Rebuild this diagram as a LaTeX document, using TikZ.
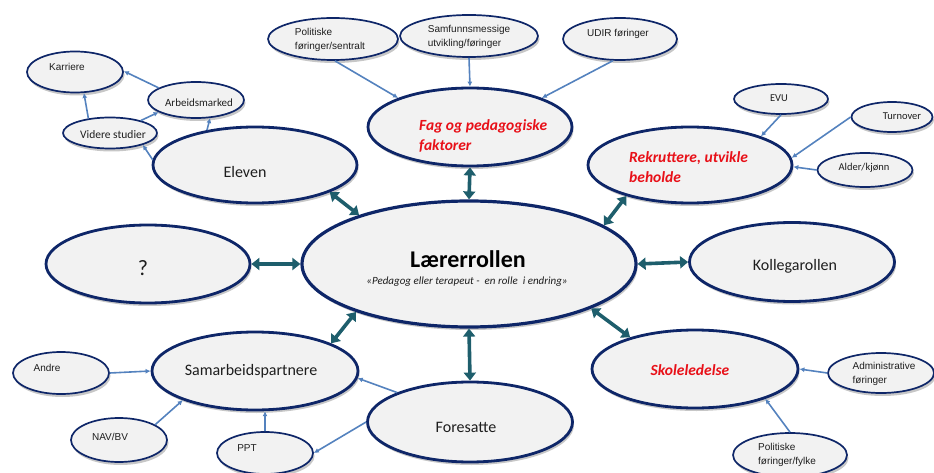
\documentclass[tikz,border=0pt]{standalone}
\usepackage{fontspec}
\newfontfamily\CalF{Carlito}
\newfontfamily\ArF{Liberation Sans}
\usetikzlibrary{shapes.geometric,arrows.meta,shadows}
\definecolor{navyb}{RGB}{14,38,104}
\definecolor{ellf}{RGB}{242,242,242}
\definecolor{linkb}{RGB}{84,130,190}
\definecolor{tealA}{RGB}{30,94,108}
\definecolor{redT}{RGB}{232,16,24}
\definecolor{txtg}{RGB}{30,30,30}
\begin{document}
\begin{tikzpicture}[x=1pt,y=-1pt,
  shad/.style={drop shadow={shadow xshift=1.5pt,shadow yshift=-3pt,opacity=0.22,fill=black}},
  bigE/.style={ellipse,draw=navyb,line width=2.8pt,fill=ellf,inner sep=0pt,minimum width=204pt,minimum height=78pt,shad},
  smE/.style={ellipse,draw=navyb,line width=1.7pt,fill=ellf,inner sep=0pt,shad},
  bigT/.style={inner sep=0pt,text=txtg,font=\CalF\fontsize{16}{19}\selectfont},
  redT/.style={inner sep=0pt,text=redT,align=left,anchor=west,font=\CalF\bfseries\itshape\fontsize{15.5}{20}\selectfont},
  arT/.style={inner sep=0pt,text=txtg,align=left,font=\ArF\fontsize{10}{14}\selectfont},
  caT/.style={inner sep=0pt,text=txtg,align=left,font=\CalF\fontsize{11}{13}\selectfont},
  lnk/.style={draw=linkb,line width=1.6pt,-{Latex[length=5pt,width=5pt]}},
  dbl/.style={draw=tealA,line width=3.6pt,{Triangle[length=8pt,width=12pt]}-{Triangle[length=8pt,width=12pt]}}
]
\useasboundingbox (0,0) rectangle (934,473);

% big ellipses
\node[bigE,minimum width=334pt,minimum height=126pt,line width=3.2pt] (L) at (469,264) {};
\node[bigE,minimum height=76pt] (E) at (255,165) {};
\node[bigE] (F) at (470,127) {};
\node[bigE,minimum height=76pt] (R) at (690,165) {};
\node[bigE] (Q) at (148,264) {};
\node[bigE,minimum width=205pt,minimum height=79pt] (K) at (792,262) {};
\node[bigE,minimum width=206pt] (S) at (255,371) {};
\node[bigE,minimum width=205pt,minimum height=80pt] (Fo) at (470,422) {};
\node[bigE,minimum width=206pt] (Sk) at (695,369) {};

% small ellipses
\node[smE,minimum width=96pt,minimum height=41pt] (kar) at (75,72) {};
\node[smE,minimum width=96pt,minimum height=36pt] (am) at (196,100) {};
\node[smE,minimum width=94pt,minimum height=31pt] (vs) at (110,133) {};
\node[smE,minimum width=130pt,minimum height=42pt] (pols) at (333,39) {};
\node[smE,minimum width=138pt,minimum height=42pt] (samf) at (469,36) {};
\node[smE,minimum width=114pt,minimum height=42pt] (udir) at (620,39) {};
\node[smE,minimum width=94pt,minimum height=30pt] (evu) at (781,99) {};
\node[smE,minimum width=81pt,minimum height=30pt] (turn) at (892,117) {};
\node[smE,minimum width=95pt,minimum height=34pt] (ald) at (865,170) {};
\node[smE,minimum width=96pt,minimum height=42pt] (andre) at (61,373) {};
\node[smE,minimum width=96pt,minimum height=44pt] (nav) at (119,440) {};
\node[smE,minimum width=96pt,minimum height=42pt] (ppt) at (265,453) {};
\node[smE,minimum width=106pt,minimum height=40pt] (adm) at (881,373) {};
\node[smE,minimum width=114pt,minimum height=44pt] (polf) at (790,455) {};

% texts
\node[inner sep=0pt,font=\CalF\bfseries\fontsize{24}{28}\selectfont] (Lt) at (468,259) {Lærerrollen};
\node[inner sep=0pt,text=txtg,font=\CalF\itshape\fontsize{11}{13}\selectfont] (Ls) at (467,282) {«Pedagog eller terapeut -\ \ en rolle\ \ i endring»};
\node[bigT] (Et) at (245,172) {Eleven};
\node[bigT,font=\CalF\fontsize{22}{26}\selectfont] (Qt) at (143,268) {?};
\node[bigT] (Kt) at (795,266) {Kollegarollen};
\node[bigT] (St) at (251,371) {Samarbeidspartnere};
\node[bigT] (Fot) at (466,427) {Foresatte};
\node[redT] (Ft) at (419,136) {Fag og pedagogiske\\faktorer};
\node[redT] (Rt) at (629,167) {Rekruttere, utvikle\\beholde};
\node[redT,anchor=center] (Skt) at (690,370) {Skoleledelse};

\node[arT] (kart) at (67,67) {Karriere};
\node[caT] (amt) at (199,103) {Arbeidsmarked};
\node[caT,font=\CalF\fontsize{11.5}{13}\selectfont] (vst) at (113,135) {Videre studier};
\node[arT] (polst) at (330,40) {Politiske\\føringer/sentralt};
\node[arT] (samft) at (469,37) {Samfunnsmessige\\utvikling/føringer};
\node[arT] (udirt) at (618,34) {UDIR føringer};
\node[caT,font=\CalF\fontsize{10.5}{13}\selectfont] (evut) at (779,98) {EVU};
\node[caT,font=\CalF\fontsize{10.5}{13}\selectfont] (turnt) at (902,116) {Turnover};
\node[caT,font=\CalF\fontsize{10.5}{13}\selectfont] (aldt) at (864,168) {Alder/kjønn};
\node[arT] (andret) at (47,368) {Andre};
\node[arT] (navt) at (110,437) {NAV/BV};
\node[arT] (pptt) at (247,448) {PPT};
\node[arT] (admt) at (884,374) {Administrative\\føringer};
\node[arT] (polft) at (787,455) {Politiske\\føringer/fylke};

% thin connectors
\draw[lnk] (vs.146) -- (kar.-67);
\draw[lnk] (am.162) -- (kar.1);
\draw[lnk] (vs.22) -- (am.198);
\draw[lnk] (E.177) -- (vs.-20);
\draw[lnk] (E.144) -- (am.-52);
\draw[lnk] (pols.-85) -- (F.158);
\draw[lnk] (samf.-90) -- (F.90);
\draw[lnk] (udir.-108) -- (F.22);
\draw[lnk] (evu.-90) -- (R.22);
\draw[lnk] (turn.180) -- (R.4);
\draw[lnk] (ald.180) -- (R.-1);
\draw[lnk] (andre.0) -- (S.180);
\draw[lnk] (nav.23) -- (S.202);
\draw[lnk] (ppt.90) -- (S.-76);
\draw[lnk] (Fo.158) -- (S.-4);
\draw[lnk] (Fo.180) -- (ppt.0);
\draw[lnk] (adm.180) -- (Sk.0);
\draw[lnk] (polf.90) -- (Sk.-23);

% thick double arrows
\draw[dbl] (E.-20) -- (L.156);
\draw[dbl] (F.-90) -- (L.90);
\draw[dbl] (R.206) -- (L.16);
\draw[dbl] (Q.0) -- (L.180);
\draw[dbl] (L.0) -- (K.180);
\draw[dbl] (L.203) -- (S.20);
\draw[dbl] (L.-90) -- (Fo.90);
\draw[dbl] (L.-20) -- (Sk.154);
\end{tikzpicture}
\end{document}
